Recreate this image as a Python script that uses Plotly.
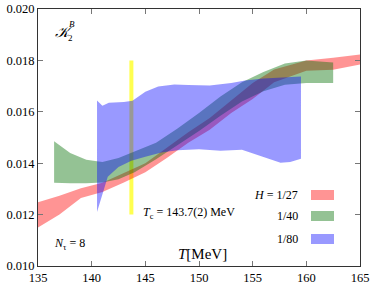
import plotly.graph_objects as go

# ---------------- data ----------------
Tc = 143.7
tc_lo, tc_hi = 0.0120, 0.0180

red_T = [135, 137, 139, 141, 143, 145, 147, 149, 151, 153, 155, 157, 160, 162.5, 165]
red_hi = [0.01248, 0.01273, 0.01303, 0.01324, 0.01362, 0.01400, 0.01460, 0.01520, 0.01576, 0.01645, 0.01712, 0.01765, 0.01800, 0.01810, 0.01823]
red_lo = [0.01150, 0.01200, 0.01265, 0.01288, 0.01325, 0.01365, 0.01420, 0.01480, 0.01530, 0.01595, 0.01650, 0.01715, 0.01760, 0.01764, 0.01784]

green_T = [136.5, 138, 139.5, 141, 142.5, 144, 146, 148, 150, 152, 154, 156, 158, 160, 162.5]
green_hi = [0.01485, 0.01440, 0.01413, 0.01405, 0.01420, 0.01445, 0.01480, 0.01535, 0.01595, 0.01660, 0.01715, 0.01755, 0.01788, 0.01800, 0.01792]
green_lo = [0.01324, 0.01322, 0.01322, 0.01325, 0.01338, 0.01365, 0.01415, 0.01470, 0.01525, 0.01585, 0.01640, 0.01680, 0.01705, 0.01712, 0.01712]

blue_T_hi = [140.5, 141.0, 141.6, 143.0, 143.8, 145.0, 146.2, 147.7, 149.0, 151.0, 153.0, 154.3, 156.0, 159.5]
blue_hi = [0.01644, 0.01624, 0.01635, 0.01638, 0.01643, 0.01678, 0.01698, 0.01706, 0.01704, 0.01702, 0.01712, 0.01722, 0.01730, 0.01737]
blue_T_lo = [140.5, 141.5, 142.5, 143.7, 145.0, 146.5, 148, 150, 152, 154, 155.5, 157.6, 158.5, 159.5]
blue_lo = [0.01210, 0.01347, 0.01385, 0.01410, 0.01425, 0.01442, 0.01450, 0.01454, 0.01448, 0.01452, 0.01432, 0.01402, 0.01405, 0.01417]

legend_labels = ["<i>H</i> = 1/27", "1/40", "1/80"]
x_ticks = [135, 140, 145, 150, 155, 160, 165]
y_ticks = [0.010, 0.012, 0.014, 0.016, 0.018, 0.020]

# ---------------- style ----------------
RED = "rgba(255,0,0,0.42)"
GREEN = "rgba(0,110,0,0.42)"
BLUE = "rgba(0,0,255,0.40)"
FONT = "'Liberation Serif', 'DejaVu Serif', serif"

W, Hh = 374, 287
L, R, T, B = 38, 14, 9, 21
PW, PH = W - L - R, Hh - T - B


def px(x):
    return (x - L) / PW


def py(y):
    return (Hh - B - y) / PH


fig = go.Figure()


def band(xh, yh, xl, yl, color):
    xs = list(xh) + list(reversed(xl))
    ys = list(yh) + list(reversed(yl))
    return go.Scatter(x=xs, y=ys, fill="toself", fillcolor=color, mode="lines",
                      line=dict(width=0, color=color), hoverinfo="skip", showlegend=False)


fig.add_trace(band(red_T, red_hi, red_T, red_lo, RED))
fig.add_trace(band(green_T, green_hi, green_T, green_lo, GREEN))
fig.add_trace(band(blue_T_hi, blue_hi, blue_T_lo, blue_lo, BLUE))

shapes = []
# yellow Tc line (drawn below the bands)
shapes.append(dict(type="line", xref="x", yref="y", x0=Tc, x1=Tc, y0=tc_lo, y1=tc_hi,
                   layer="below", line=dict(color="#ffff50", width=4)))

ann = []
# K_2^B label
ann.append(dict(x=px(53), y=py(32), xref="paper", yref="paper", text="<i>𝒦</i>", showarrow=False,
                xanchor="left", yanchor="middle", font=dict(family=FONT, size=15, color="black")))
ann.append(dict(x=px(67), y=py(24), xref="paper", yref="paper", text="<i>B</i>", showarrow=False,
                xanchor="left", yanchor="middle", font=dict(family=FONT, size=9, color="black")))
ann.append(dict(x=px(66), y=py(38), xref="paper", yref="paper", text="2", showarrow=False,
                xanchor="left", yanchor="middle", font=dict(family=FONT, size=9, color="black")))
# Tc text
ann.append(dict(x=px(141), y=py(213), xref="paper", yref="paper",
                text="<i>T</i><sub>c</sub> = 143.7(2) MeV", showarrow=False,
                xanchor="left", yanchor="middle", font=dict(family=FONT, size=12, color="black")))
# N_tau
ann.append(dict(x=px(52), y=py(244), xref="paper", yref="paper",
                text="<i>N</i><sub>τ</sub> = 8", showarrow=False,
                xanchor="left", yanchor="middle", font=dict(family=FONT, size=12, color="black")))
# axis title
ann.append(dict(x=px(176), y=py(254), xref="paper", yref="paper",
                text="<i>T</i>[MeV]", showarrow=False,
                xanchor="left", yanchor="middle", font=dict(family=FONT, size=15, color="black")))

rows = [195, 216, 239]
for lab, row, col in zip(legend_labels, rows, [RED, GREEN, BLUE]):
    ann.append(dict(x=px(300), y=py(row), xref="paper", yref="paper", text=lab, showarrow=False,
                    xanchor="right", yanchor="middle", font=dict(family=FONT, size=12, color="black")))
    shapes.append(dict(type="rect", xref="paper", yref="paper", x0=px(311), x1=px(334),
                       y0=py(row + 5), y1=py(row - 5), fillcolor=col, line=dict(width=0)))

axis_common = dict(showgrid=False, zeroline=False, ticks="inside", ticklen=5, tickcolor="#777",
                   showline=True, linecolor="#333", linewidth=1, mirror="ticks", automargin=False,
                   tickfont=dict(family=FONT, size=12.5, color="black"))

fig.update_layout(
    width=W, height=Hh, autosize=False,
    margin=dict(l=L, r=R, t=T, b=B),
    paper_bgcolor="white", plot_bgcolor="white",
    xaxis=dict(range=[135, 165], tickvals=x_ticks, ticktext=[str(v) for v in x_ticks], **axis_common),
    yaxis=dict(range=[0.010, 0.020], tickvals=y_ticks, ticktext=[f"{v:.3f}" for v in y_ticks], **axis_common),
    annotations=ann, shapes=shapes, showlegend=False,
)

fig.write_html("out.html", config={"displayModeBar": False},
               post_script="document.body.style.margin='0';document.body.style.overflow='hidden';")
